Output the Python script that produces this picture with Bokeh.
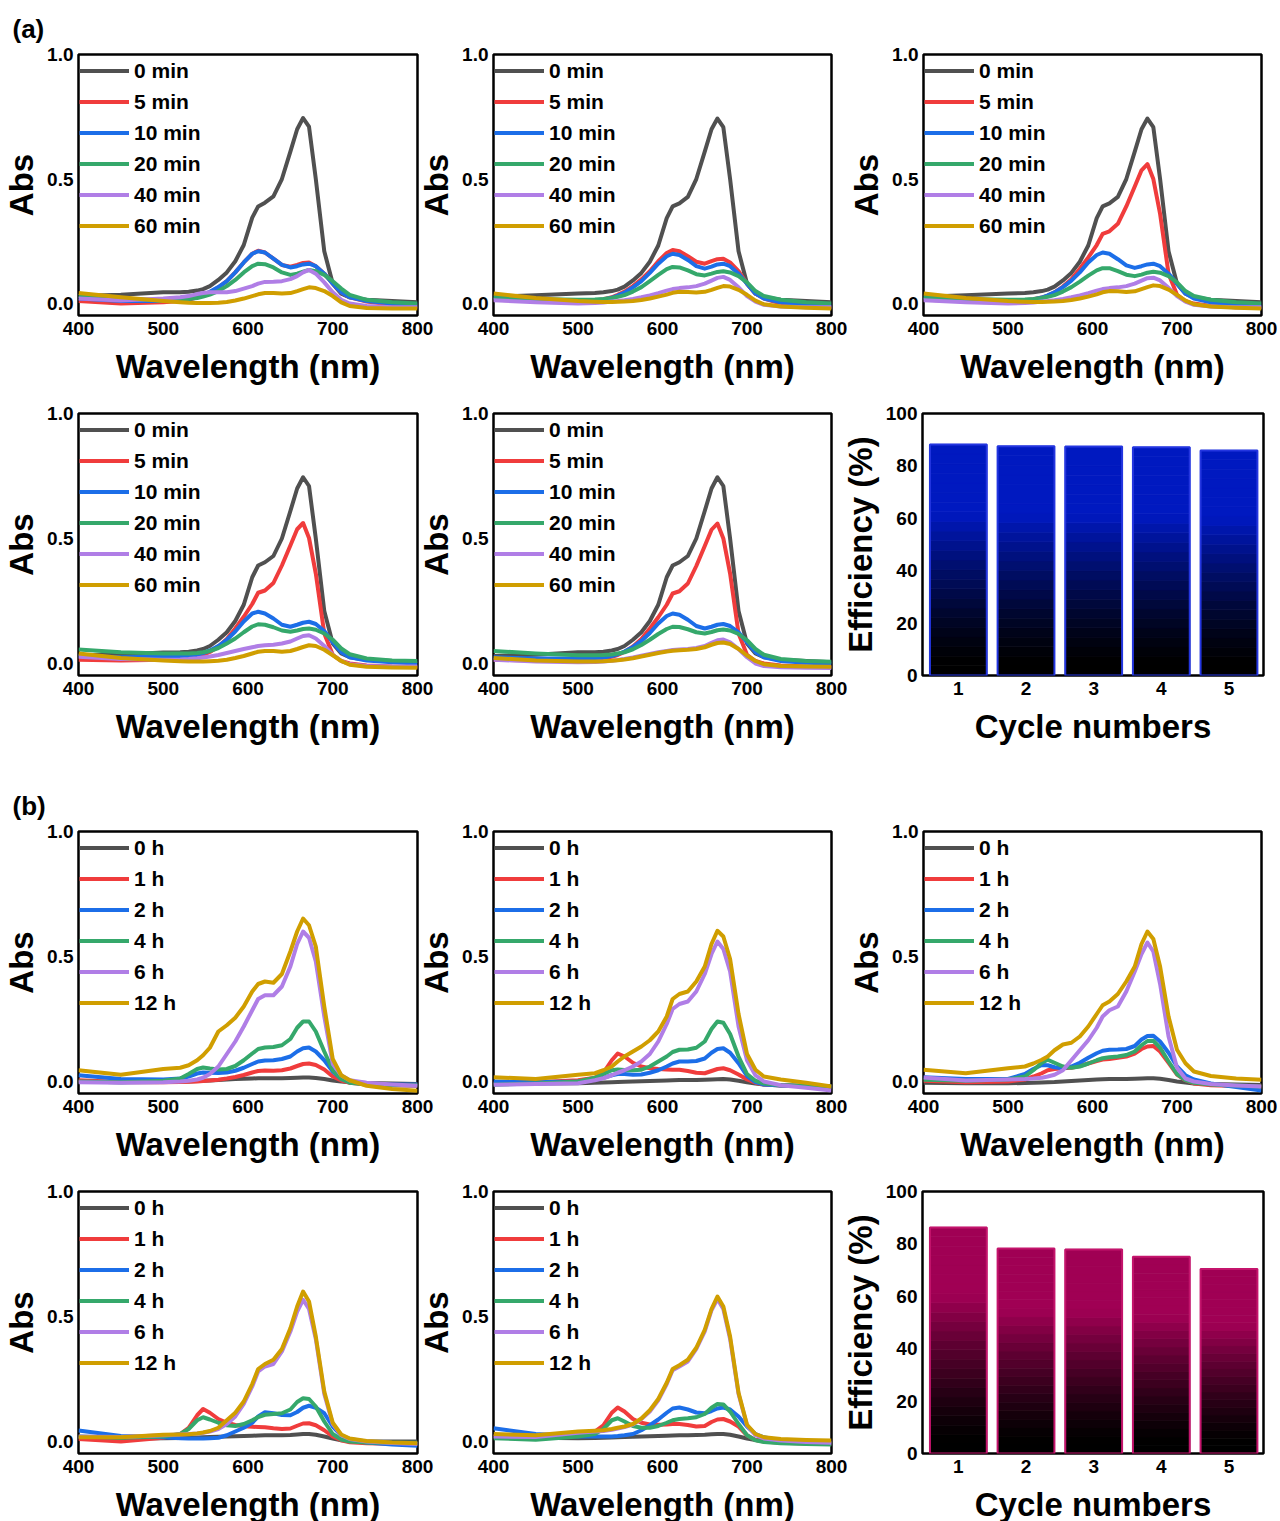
from bokeh.plotting import figure
from bokeh.models import Range1d, FixedTicker, Legend, LegendItem, ColumnDataSource, NumeralTickFormatter
from bokeh.layouts import column, row
from bokeh.embed import file_html
from bokeh.resources import INLINE

# ---------------- data ----------------
wavelength = [400, 450, 500, 520, 530, 540, 547, 555, 565, 575, 585, 595, 605, 612, 620,
              630, 640, 650, 658, 665, 672, 680, 690, 700, 710, 720, 740, 770, 800]

labels_a = ["0 min", "5 min", "10 min", "20 min", "40 min", "60 min"]
labels_b = ["0 h", "1 h", "2 h", "4 h", "6 h", "12 h"]

# (a) panel 1
a1_0 = [0.030, 0.035, 0.045, 0.045, 0.047, 0.052, 0.058, 0.070, 0.095, 0.125, 0.170, 0.235, 0.345, 0.390, 0.405, 0.430, 0.500, 0.610, 0.700, 0.745, 0.710, 0.500, 0.210, 0.080, 0.040, 0.025, 0.015, 0.010, 0.005]
a1_5 = [0.010, 0.000, 0.005, 0.010, 0.015, 0.025, 0.035, 0.045, 0.065, 0.090, 0.125, 0.165, 0.200, 0.212, 0.205, 0.180, 0.155, 0.148, 0.155, 0.163, 0.165, 0.150, 0.120, 0.080, 0.045, 0.025, 0.008, -0.005, -0.010]
a1_10 = [0.020, 0.010, 0.010, 0.015, 0.020, 0.028, 0.036, 0.047, 0.066, 0.090, 0.125, 0.165, 0.200, 0.210, 0.205, 0.180, 0.155, 0.145, 0.150, 0.157, 0.160, 0.150, 0.120, 0.080, 0.045, 0.025, 0.010, 0.000, -0.005]
a1_20 = [0.030, 0.020, 0.012, 0.015, 0.018, 0.022, 0.028, 0.036, 0.050, 0.070, 0.095, 0.125, 0.150, 0.160, 0.158, 0.145, 0.125, 0.115, 0.120, 0.128, 0.135, 0.130, 0.115, 0.090, 0.060, 0.035, 0.015, 0.005, 0.000]
a1_40 = [0.020, 0.012, 0.020, 0.025, 0.030, 0.038, 0.042, 0.045, 0.045, 0.045, 0.050, 0.060, 0.070, 0.080, 0.087, 0.088, 0.090, 0.098, 0.110, 0.125, 0.135, 0.120, 0.085, 0.045, 0.015, 0.000, -0.010, -0.015, -0.015]
a1_60 = [0.042, 0.025, 0.010, 0.005, 0.003, 0.002, 0.002, 0.002, 0.003, 0.006, 0.012, 0.020, 0.030, 0.037, 0.042, 0.042, 0.040, 0.042, 0.050, 0.058, 0.065, 0.062, 0.050, 0.030, 0.005, -0.010, -0.018, -0.020, -0.020]

# (a) panel 2
a2_0 = [0.027, 0.033, 0.040, 0.042, 0.045, 0.050, 0.056, 0.068, 0.093, 0.123, 0.168, 0.233, 0.343, 0.390, 0.402, 0.428, 0.500, 0.610, 0.700, 0.743, 0.708, 0.500, 0.210, 0.080, 0.040, 0.025, 0.015, 0.010, 0.005]
a2_5 = [0.015, 0.010, 0.010, 0.012, 0.017, 0.025, 0.035, 0.048, 0.070, 0.097, 0.130, 0.170, 0.203, 0.215, 0.210, 0.190, 0.168, 0.160, 0.170, 0.178, 0.180, 0.165, 0.130, 0.080, 0.040, 0.020, 0.000, -0.010, -0.015]
a2_10 = [0.020, 0.012, 0.010, 0.012, 0.016, 0.023, 0.032, 0.044, 0.065, 0.090, 0.123, 0.160, 0.190, 0.200, 0.195, 0.175, 0.150, 0.140, 0.148, 0.157, 0.160, 0.150, 0.120, 0.080, 0.040, 0.020, 0.005, -0.005, -0.008]
a2_20 = [0.025, 0.018, 0.015, 0.016, 0.018, 0.022, 0.027, 0.034, 0.048, 0.066, 0.090, 0.115, 0.138, 0.147, 0.145, 0.133, 0.118, 0.113, 0.120, 0.127, 0.130, 0.125, 0.110, 0.085, 0.050, 0.030, 0.015, 0.005, 0.000]
a2_40 = [0.013, 0.005, 0.000, 0.002, 0.004, 0.008, 0.010, 0.013, 0.018, 0.025, 0.033, 0.042, 0.052, 0.058, 0.062, 0.065, 0.070, 0.080, 0.092, 0.103, 0.107, 0.095, 0.065, 0.030, 0.008, -0.005, -0.012, -0.015, -0.015]
a2_60 = [0.040, 0.022, 0.010, 0.007, 0.006, 0.006, 0.007, 0.008, 0.010, 0.014, 0.020, 0.028, 0.036, 0.043, 0.047, 0.046, 0.044, 0.047, 0.055, 0.063, 0.070, 0.068, 0.055, 0.035, 0.012, -0.003, -0.012, -0.017, -0.020]

# (a) panel 3
a3_0 = [0.027, 0.033, 0.040, 0.042, 0.045, 0.050, 0.056, 0.068, 0.093, 0.123, 0.168, 0.233, 0.343, 0.390, 0.402, 0.428, 0.500, 0.610, 0.700, 0.743, 0.708, 0.500, 0.210, 0.080, 0.040, 0.025, 0.015, 0.010, 0.005]
a3_5 = [0.015, 0.010, 0.010, 0.013, 0.017, 0.024, 0.032, 0.045, 0.068, 0.098, 0.140, 0.185, 0.235, 0.280, 0.290, 0.320, 0.390, 0.470, 0.535, 0.560, 0.500, 0.360, 0.120, 0.035, 0.010, 0.000, -0.010, -0.015, -0.015]
a3_10 = [0.020, 0.012, 0.010, 0.012, 0.016, 0.024, 0.033, 0.045, 0.066, 0.092, 0.125, 0.165, 0.195, 0.205, 0.200, 0.178, 0.153, 0.143, 0.150, 0.157, 0.160, 0.150, 0.120, 0.080, 0.040, 0.020, 0.005, -0.005, -0.008]
a3_20 = [0.025, 0.018, 0.015, 0.016, 0.018, 0.022, 0.027, 0.034, 0.048, 0.066, 0.088, 0.112, 0.133, 0.142, 0.142, 0.130, 0.116, 0.110, 0.116, 0.124, 0.128, 0.124, 0.110, 0.085, 0.050, 0.030, 0.015, 0.005, 0.000]
a3_40 = [0.013, 0.005, 0.000, 0.002, 0.004, 0.008, 0.010, 0.013, 0.018, 0.025, 0.033, 0.042, 0.052, 0.058, 0.062, 0.065, 0.070, 0.080, 0.092, 0.102, 0.104, 0.093, 0.063, 0.030, 0.008, -0.005, -0.012, -0.015, -0.015]
a3_60 = [0.040, 0.022, 0.010, 0.007, 0.006, 0.006, 0.007, 0.008, 0.010, 0.014, 0.020, 0.028, 0.037, 0.045, 0.050, 0.049, 0.046, 0.049, 0.058, 0.066, 0.073, 0.070, 0.056, 0.035, 0.012, -0.003, -0.012, -0.017, -0.020]

# (a) panel 4
a4_0 = [0.033, 0.036, 0.044, 0.045, 0.047, 0.052, 0.058, 0.070, 0.095, 0.125, 0.170, 0.235, 0.345, 0.392, 0.405, 0.430, 0.500, 0.610, 0.700, 0.745, 0.710, 0.500, 0.210, 0.080, 0.040, 0.025, 0.015, 0.010, 0.005]
a4_5 = [0.015, 0.012, 0.015, 0.018, 0.021, 0.027, 0.034, 0.046, 0.068, 0.098, 0.140, 0.187, 0.238, 0.283, 0.292, 0.322, 0.392, 0.472, 0.537, 0.562, 0.502, 0.360, 0.120, 0.035, 0.010, 0.000, -0.008, -0.012, -0.013]
a4_10 = [0.030, 0.025, 0.027, 0.028, 0.030, 0.035, 0.042, 0.052, 0.070, 0.095, 0.128, 0.168, 0.200, 0.207, 0.200, 0.180, 0.155, 0.147, 0.155, 0.163, 0.167, 0.158, 0.130, 0.085, 0.045, 0.025, 0.012, 0.005, 0.000]
a4_20 = [0.056, 0.045, 0.040, 0.040, 0.040, 0.042, 0.045, 0.050, 0.062, 0.080, 0.100, 0.125, 0.148, 0.157, 0.155, 0.145, 0.132, 0.127, 0.132, 0.138, 0.140, 0.135, 0.120, 0.095, 0.060, 0.037, 0.020, 0.012, 0.010]
a4_40 = [0.027, 0.018, 0.015, 0.016, 0.018, 0.021, 0.024, 0.028, 0.034, 0.042, 0.050, 0.058, 0.065, 0.070, 0.073, 0.075, 0.080, 0.088, 0.100, 0.110, 0.113, 0.100, 0.070, 0.035, 0.010, -0.003, -0.010, -0.012, -0.012]
a4_60 = [0.040, 0.022, 0.012, 0.009, 0.008, 0.008, 0.008, 0.009, 0.011, 0.015, 0.022, 0.030, 0.040, 0.047, 0.050, 0.050, 0.047, 0.050, 0.058, 0.066, 0.073, 0.070, 0.055, 0.033, 0.010, -0.005, -0.013, -0.016, -0.017]

# (a) panel 5
a5_0 = [0.030, 0.035, 0.045, 0.045, 0.047, 0.052, 0.058, 0.070, 0.095, 0.125, 0.170, 0.235, 0.345, 0.392, 0.405, 0.430, 0.500, 0.610, 0.700, 0.745, 0.710, 0.500, 0.210, 0.080, 0.040, 0.025, 0.015, 0.010, 0.005]
a5_5 = [0.015, 0.012, 0.015, 0.018, 0.021, 0.027, 0.034, 0.046, 0.068, 0.098, 0.140, 0.185, 0.235, 0.280, 0.289, 0.320, 0.390, 0.470, 0.535, 0.560, 0.500, 0.360, 0.120, 0.035, 0.010, 0.000, -0.008, -0.012, -0.013]
a5_10 = [0.025, 0.020, 0.020, 0.021, 0.024, 0.030, 0.037, 0.048, 0.066, 0.090, 0.122, 0.160, 0.190, 0.200, 0.195, 0.175, 0.150, 0.140, 0.147, 0.155, 0.158, 0.150, 0.125, 0.085, 0.045, 0.025, 0.010, 0.003, 0.000]
a5_20 = [0.050, 0.040, 0.033, 0.033, 0.034, 0.036, 0.040, 0.045, 0.057, 0.074, 0.095, 0.118, 0.138, 0.147, 0.146, 0.137, 0.125, 0.120, 0.126, 0.133, 0.136, 0.132, 0.118, 0.093, 0.058, 0.035, 0.018, 0.010, 0.007]
a5_40 = [0.015, 0.008, 0.005, 0.006, 0.008, 0.011, 0.014, 0.018, 0.024, 0.031, 0.038, 0.045, 0.050, 0.054, 0.056, 0.058, 0.062, 0.070, 0.083, 0.093, 0.096, 0.085, 0.058, 0.025, 0.000, -0.010, -0.015, -0.017, -0.018]
a5_60 = [0.022, 0.012, 0.008, 0.008, 0.009, 0.011, 0.013, 0.016, 0.021, 0.028, 0.035, 0.042, 0.048, 0.051, 0.053, 0.055, 0.058, 0.065, 0.075, 0.082, 0.084, 0.078, 0.058, 0.032, 0.010, -0.003, -0.010, -0.012, -0.013]

# (b) panel 1
b1_0 = [0.000, -0.003, -0.002, 0.000, 0.000, 0.002, 0.003, 0.004, 0.006, 0.008, 0.010, 0.011, 0.012, 0.013, 0.013, 0.013, 0.013, 0.014, 0.015, 0.016, 0.016, 0.014, 0.010, 0.004, 0.000, -0.003, -0.006, -0.008, -0.010]
b1_1 = [0.005, -0.002, -0.003, -0.002, -0.001, 0.000, 0.002, 0.004, 0.007, 0.012, 0.018, 0.026, 0.036, 0.042, 0.044, 0.043, 0.045, 0.052, 0.062, 0.070, 0.072, 0.066, 0.048, 0.020, 0.004, -0.005, -0.012, -0.015, -0.017]
b1_2 = [0.025, 0.010, 0.008, 0.012, 0.020, 0.032, 0.036, 0.035, 0.034, 0.036, 0.043, 0.055, 0.070, 0.080, 0.084, 0.085, 0.090, 0.100, 0.120, 0.133, 0.136, 0.120, 0.085, 0.040, 0.010, -0.003, -0.010, -0.012, -0.012]
b1_4 = [0.000, -0.003, 0.003, 0.012, 0.030, 0.050, 0.056, 0.052, 0.048, 0.050, 0.062, 0.085, 0.112, 0.130, 0.136, 0.138, 0.145, 0.170, 0.215, 0.240, 0.240, 0.200, 0.120, 0.045, 0.010, -0.005, -0.012, -0.015, -0.015]
b1_6 = [-0.003, -0.005, -0.003, 0.000, 0.003, 0.008, 0.015, 0.030, 0.060, 0.110, 0.160, 0.220, 0.285, 0.330, 0.345, 0.345, 0.380, 0.460, 0.550, 0.600, 0.575, 0.480, 0.260, 0.070, 0.025, 0.005, -0.005, -0.012, -0.017]
b1_12 = [0.045, 0.027, 0.050, 0.055, 0.065, 0.085, 0.105, 0.135, 0.200, 0.225, 0.255, 0.300, 0.360, 0.390, 0.400, 0.395, 0.430, 0.520, 0.600, 0.652, 0.625, 0.540, 0.300, 0.090, 0.025, 0.005, -0.017, -0.030, -0.037]

# (b) panel 2
b2_0 = [-0.010, -0.008, -0.007, -0.005, -0.004, -0.003, -0.002, -0.001, 0.000, 0.001, 0.002, 0.003, 0.004, 0.005, 0.006, 0.006, 0.006, 0.007, 0.008, 0.009, 0.010, 0.008, 0.003, -0.003, -0.008, -0.012, -0.015, -0.018, -0.020]
b2_1 = [-0.007, -0.003, 0.005, 0.015, 0.035, 0.085, 0.112, 0.100, 0.075, 0.060, 0.053, 0.050, 0.048, 0.047, 0.047, 0.042, 0.035, 0.033, 0.042, 0.050, 0.053, 0.045, 0.028, 0.008, -0.005, -0.012, -0.016, -0.018, -0.020]
b2_2 = [0.000, -0.002, 0.000, 0.008, 0.015, 0.025, 0.030, 0.030, 0.027, 0.028, 0.035, 0.045, 0.060, 0.072, 0.080, 0.080, 0.082, 0.092, 0.115, 0.130, 0.133, 0.115, 0.073, 0.022, -0.002, -0.012, -0.016, -0.018, -0.020]
b2_4 = [-0.013, -0.008, 0.000, 0.015, 0.030, 0.045, 0.048, 0.046, 0.045, 0.047, 0.060, 0.080, 0.100, 0.118, 0.127, 0.128, 0.135, 0.160, 0.210, 0.240, 0.235, 0.190, 0.100, 0.030, 0.003, -0.008, -0.015, -0.018, -0.020]
b2_6 = [-0.013, -0.010, -0.007, 0.005, 0.013, 0.025, 0.035, 0.045, 0.060, 0.080, 0.110, 0.160, 0.230, 0.290, 0.310, 0.320, 0.360, 0.430, 0.510, 0.560, 0.530, 0.440, 0.220, 0.085, 0.025, 0.000, -0.015, -0.025, -0.036]
b2_12 = [0.017, 0.010, 0.027, 0.033, 0.045, 0.060, 0.080, 0.100, 0.120, 0.140, 0.165, 0.200, 0.260, 0.330, 0.350, 0.360, 0.400, 0.460, 0.550, 0.603, 0.580, 0.490, 0.270, 0.110, 0.047, 0.020, 0.008, -0.005, -0.020]

# (b) panel 3
b3_0 = [-0.005, -0.007, -0.007, -0.006, -0.005, -0.004, -0.003, -0.002, 0.000, 0.002, 0.004, 0.006, 0.008, 0.009, 0.010, 0.010, 0.010, 0.011, 0.012, 0.013, 0.013, 0.011, 0.006, 0.000, -0.004, -0.008, -0.010, -0.012, -0.014]
b3_1 = [0.003, -0.003, 0.000, 0.008, 0.020, 0.033, 0.045, 0.050, 0.053, 0.055, 0.062, 0.072, 0.082, 0.088, 0.090, 0.095, 0.100, 0.112, 0.130, 0.140, 0.142, 0.120, 0.075, 0.028, 0.005, -0.008, -0.015, -0.018, -0.020]
b3_2 = [0.017, 0.010, 0.010, 0.030, 0.050, 0.066, 0.065, 0.057, 0.053, 0.060, 0.075, 0.095, 0.113, 0.123, 0.127, 0.128, 0.130, 0.142, 0.168, 0.182, 0.183, 0.160, 0.115, 0.060, 0.025, 0.008, -0.008, -0.022, -0.036]
b3_4 = [0.007, 0.003, 0.008, 0.020, 0.045, 0.075, 0.087, 0.075, 0.060, 0.055, 0.060, 0.072, 0.085, 0.093, 0.097, 0.100, 0.106, 0.120, 0.145, 0.162, 0.163, 0.135, 0.080, 0.030, 0.006, -0.005, -0.012, -0.016, -0.020]
b3_6 = [0.016, 0.004, 0.008, 0.010, 0.012, 0.015, 0.020, 0.027, 0.045, 0.085, 0.125, 0.165, 0.215, 0.260, 0.285, 0.300, 0.360, 0.440, 0.510, 0.556, 0.520, 0.390, 0.180, 0.055, 0.012, 0.000, -0.010, -0.016, -0.020]
b3_12 = [0.047, 0.033, 0.053, 0.060, 0.072, 0.087, 0.100, 0.125, 0.148, 0.155, 0.180, 0.220, 0.270, 0.305, 0.320, 0.350, 0.400, 0.460, 0.550, 0.600, 0.570, 0.460, 0.260, 0.127, 0.073, 0.040, 0.022, 0.012, 0.007]

# (b) panel 4
b4_0 = [0.013, 0.012, 0.013, 0.014, 0.015, 0.016, 0.017, 0.018, 0.019, 0.020, 0.021, 0.022, 0.023, 0.024, 0.025, 0.025, 0.025, 0.026, 0.028, 0.030, 0.030, 0.027, 0.020, 0.012, 0.005, 0.002, 0.000, 0.000, 0.000]
b4_1 = [0.010, 0.000, 0.015, 0.030, 0.055, 0.105, 0.130, 0.115, 0.090, 0.075, 0.066, 0.061, 0.059, 0.058, 0.057, 0.053, 0.050, 0.052, 0.063, 0.072, 0.073, 0.065, 0.045, 0.020, 0.005, -0.003, -0.007, -0.009, -0.010]
b4_2 = [0.044, 0.022, 0.017, 0.013, 0.012, 0.012, 0.012, 0.013, 0.015, 0.025, 0.040, 0.055, 0.075, 0.100, 0.117, 0.113, 0.106, 0.105, 0.118, 0.135, 0.143, 0.135, 0.113, 0.060, 0.025, 0.010, -0.004, -0.012, -0.017]
b4_4 = [0.020, 0.015, 0.020, 0.030, 0.050, 0.085, 0.097, 0.088, 0.075, 0.065, 0.062, 0.070, 0.085, 0.098, 0.107, 0.110, 0.113, 0.128, 0.158, 0.173, 0.170, 0.140, 0.080, 0.030, 0.008, 0.000, -0.004, -0.005, -0.005]
b4_6 = [0.020, 0.018, 0.025, 0.028, 0.030, 0.032, 0.035, 0.040, 0.050, 0.070, 0.100, 0.150, 0.220, 0.280, 0.300, 0.310, 0.360, 0.440, 0.520, 0.567, 0.530, 0.410, 0.190, 0.070, 0.025, 0.010, 0.000, -0.006, -0.010]
b4_12 = [0.017, 0.017, 0.027, 0.028, 0.029, 0.032, 0.036, 0.042, 0.055, 0.085, 0.115, 0.160, 0.230, 0.290, 0.310, 0.327, 0.370, 0.453, 0.540, 0.600, 0.560, 0.420, 0.200, 0.075, 0.028, 0.012, 0.002, -0.004, -0.007]

# (b) panel 5
b5_0 = [0.020, 0.015, 0.013, 0.014, 0.015, 0.016, 0.017, 0.018, 0.019, 0.020, 0.021, 0.022, 0.023, 0.024, 0.025, 0.025, 0.026, 0.027, 0.029, 0.030, 0.030, 0.027, 0.020, 0.012, 0.006, 0.003, 0.001, 0.000, 0.000]
b5_1 = [0.020, 0.025, 0.033, 0.040, 0.065, 0.115, 0.136, 0.120, 0.090, 0.075, 0.068, 0.067, 0.068, 0.070, 0.070, 0.066, 0.060, 0.062, 0.078, 0.088, 0.090, 0.080, 0.060, 0.025, 0.006, 0.000, -0.005, -0.008, -0.010]
b5_2 = [0.053, 0.030, 0.020, 0.020, 0.020, 0.020, 0.022, 0.025, 0.030, 0.045, 0.065, 0.088, 0.115, 0.132, 0.136, 0.128, 0.116, 0.113, 0.122, 0.132, 0.136, 0.128, 0.100, 0.060, 0.030, 0.017, 0.004, -0.004, -0.008]
b5_4 = [0.013, 0.007, 0.020, 0.030, 0.050, 0.085, 0.093, 0.080, 0.062, 0.055, 0.055, 0.062, 0.075, 0.085, 0.090, 0.093, 0.097, 0.110, 0.135, 0.150, 0.148, 0.120, 0.070, 0.025, 0.005, -0.002, -0.007, -0.010, -0.012]
b5_6 = [0.020, 0.018, 0.035, 0.040, 0.042, 0.047, 0.052, 0.058, 0.068, 0.090, 0.120, 0.165, 0.230, 0.285, 0.300, 0.320, 0.370, 0.440, 0.525, 0.570, 0.530, 0.410, 0.190, 0.065, 0.025, 0.012, 0.004, -0.002, -0.005]
b5_12 = [0.030, 0.025, 0.040, 0.043, 0.045, 0.050, 0.055, 0.060, 0.070, 0.092, 0.125, 0.170, 0.235, 0.290, 0.305, 0.327, 0.375, 0.447, 0.530, 0.580, 0.540, 0.420, 0.195, 0.067, 0.030, 0.017, 0.010, 0.006, 0.004]

cycles = [1, 2, 3, 4, 5]
efficiency_a = [88.2, 87.5, 87.4, 87.1, 85.9]
efficiency_b = [86.3, 78.2, 77.9, 75.1, 70.4]

x_ticks = [400, 500, 600, 700, 800]
y_ticks = [0.0, 0.5, 1.0]
bar_y_ticks = [0, 20, 40, 60, 80, 100]

# ---------------- style ----------------
FONT = "Liberation Sans"
COLORS = ["#505050", "#f03c3c", "#1c6ee8", "#35a86b", "#b07ee6", "#d09e00"]
FRAME_H = 262
# (left border, frame width, right border, negative left margin)
C1 = (78, 339, 28, 0)
C2 = (80, 338, 26, -32)
C3 = (78, 338, 19, -12)
CB = (88, 341, 17, -23)


def style(p, title=""):
    for ax in p.axis:
        ax.axis_line_color = None
        ax.major_tick_line_color = None
        ax.minor_tick_line_color = None
        ax.major_tick_out = 0
        ax.major_tick_in = 0
        ax.minor_tick_out = 0
        ax.minor_tick_in = 0
        ax.major_label_text_font = FONT
        ax.major_label_text_font_style = "bold"
        ax.major_label_text_font_size = "19px"
        ax.major_label_text_color = "black"
        ax.axis_label_text_font = FONT
        ax.axis_label_text_font_style = "bold"
        ax.axis_label_text_font_size = "33px"
        ax.axis_label_text_color = "black"
    p.xaxis.major_label_standoff = 6
    p.yaxis.major_label_standoff = 5
    p.xaxis.axis_label_standoff = 10
    p.yaxis.axis_label_standoff = 4
    p.xgrid.visible = False
    p.ygrid.visible = False
    p.outline_line_color = "black"
    p.outline_line_width = 2.5
    p.outline_line_alpha = 1.0
    p.border_fill_alpha = 0.0
    p.background_fill_color = "white"
    if title:
        p.title.text = title
        p.title.align = "left"
        p.title.offset = -66
        p.title.text_font = FONT
        p.title.text_font_size = "26px"
        p.title.text_font_style = "bold"
        p.title.text_color = "black"
        p.title.standoff = 22


def spectra(series, labels, col, top, bottom, title=""):
    lb, fw, rb, ml = col
    p = figure(width=lb + fw + rb, height=top + FRAME_H + bottom,
               x_range=Range1d(400, 800), y_range=Range1d(-0.048, 1.0),
               output_backend="svg", toolbar_location=None,
               min_border_left=lb, min_border_right=rb,
               min_border_top=top, min_border_bottom=bottom,
               margin=(0, 0, 0, ml),
               x_axis_label="Wavelength (nm)", y_axis_label="Abs")
    items = []
    for ys, lab, c in zip(series, labels, COLORS):
        assert len(ys) == len(wavelength), lab
        r = p.line(wavelength, ys, line_color=c, line_width=4, line_join="round")
        items.append(LegendItem(label=lab, renderers=[r]))
    leg = Legend(items=items, location="top_left")
    leg.border_line_color = None
    leg.background_fill_alpha = 0
    leg.label_text_font = FONT
    leg.label_text_font_style = "bold"
    leg.label_text_font_size = "21px"
    leg.label_text_color = "black"
    leg.glyph_width = 50
    leg.glyph_height = 31
    leg.label_height = 31
    leg.spacing = 0
    leg.padding = 3
    leg.margin = 1
    leg.label_standoff = 5
    p.add_layout(leg)
    p.xaxis.ticker = FixedTicker(ticks=x_ticks)
    p.yaxis.ticker = FixedTicker(ticks=y_ticks)
    p.yaxis.formatter = NumeralTickFormatter(format="0.0")
    style(p, title)
    return p


def mix(rgb, f):
    r, g, b = (int(round(c * f)) for c in rgb)
    return "#%02x%02x%02x" % (r, g, b)


def bars(values, top_rgb, edge, col, top, bottom):
    lb, fw, rb, ml = col
    p = figure(width=lb + fw + rb, height=top + FRAME_H + bottom,
               x_range=Range1d(0.47, 5.51), y_range=Range1d(0, 100),
               output_backend="svg", toolbar_location=None,
               min_border_left=lb, min_border_right=rb,
               min_border_top=top, min_border_bottom=bottom,
               margin=(0, 0, 0, ml),
               x_axis_label="Cycle numbers", y_axis_label="Efficiency (%)")
    half = 0.42
    n = 24
    d = dict(l=[], r=[], b=[], t=[], c=[])
    for x, v in zip(cycles, values):
        for k in range(n):
            frac = (k + 0.5) / n
            f = min(max((frac - 0.05) / 0.65, 0.0), 1.0) ** 1.3
            d["l"].append(x - half)
            d["r"].append(x + half)
            d["b"].append(v * k / n)
            d["t"].append(v * (k + 1) / n)
            d["c"].append(mix(top_rgb, f))
    p.quad(left="l", right="r", bottom="b", top="t", fill_color="c", line_color="c",
           line_width=0.8, source=ColumnDataSource(d))
    p.quad(left=[x - half for x in cycles], right=[x + half for x in cycles],
           bottom=[0] * len(cycles), top=values, fill_color=None,
           line_color=edge, line_width=2)
    p.xaxis.ticker = FixedTicker(ticks=cycles)
    p.yaxis.ticker = FixedTicker(ticks=bar_y_ticks)
    style(p)
    return p


A1 = [a1_0, a1_5, a1_10, a1_20, a1_40, a1_60]
A2 = [a2_0, a2_5, a2_10, a2_20, a2_40, a2_60]
A3 = [a3_0, a3_5, a3_10, a3_20, a3_40, a3_60]
A4 = [a4_0, a4_5, a4_10, a4_20, a4_40, a4_60]
A5 = [a5_0, a5_5, a5_10, a5_20, a5_40, a5_60]
B1 = [b1_0, b1_1, b1_2, b1_4, b1_6, b1_12]
B2 = [b2_0, b2_1, b2_2, b2_4, b2_6, b2_12]
B3 = [b3_0, b3_1, b3_2, b3_4, b3_6, b3_12]
B4 = [b4_0, b4_1, b4_2, b4_4, b4_6, b4_12]
B5 = [b5_0, b5_1, b5_2, b5_4, b5_6, b5_12]

BOT = 80
row1 = row(spectra(A1, labels_a, C1, 53, BOT, "(a)"),
           spectra(A2, labels_a, C2, 53, BOT),
           spectra(A3, labels_a, C3, 53, BOT), spacing=0)
row2 = row(spectra(A4, labels_a, C1, 18, BOT),
           spectra(A5, labels_a, C2, 18, BOT),
           bars(efficiency_a, (0, 25, 192), "#2436e0", CB, 18, BOT), spacing=0)
row3 = row(spectra(B1, labels_b, C1, 76, BOT, "(b)"),
           spectra(B2, labels_b, C2, 76, BOT),
           spectra(B3, labels_b, C3, 76, BOT), spacing=0)
row4 = row(spectra(B4, labels_b, C1, 18, BOT),
           spectra(B5, labels_b, C2, 18, BOT),
           bars(efficiency_b, (160, 0, 84), "#c4146c", CB, 18, BOT), spacing=0)

layout = column(row1, row2, row3, row4, spacing=0)

with open("out.html", "w") as fh:
    fh.write(file_html(layout, INLINE))
